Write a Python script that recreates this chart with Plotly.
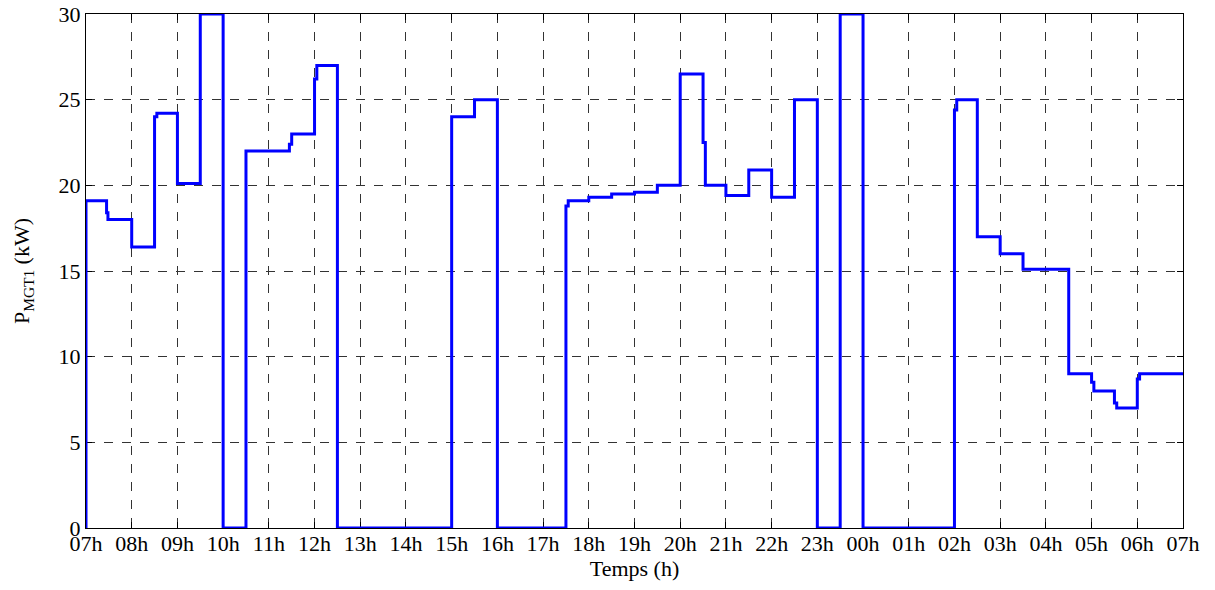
import plotly.graph_objects as go

# Time in hours after 07h, and power of MGT1 (kW) starting at that time (step function)
hours = [0, 0, 0.45, 0.48, 1.0, 1.5, 1.55, 2.0, 2.5, 3.0, 3.5, 4.45, 4.5, 5.0, 5.05, 5.5,
         8.0, 8.5, 9.0, 10.5, 10.55, 11.0, 11.5, 12.0, 12.5, 13.0, 13.5, 13.55, 14.0, 14.5,
         15.0, 15.5, 16.0, 16.5, 17.0, 19.0, 19.05, 19.5, 20.0, 20.5, 21.5, 22.0, 22.05,
         22.5, 22.55, 23.0, 23.05, 24.0]
p_mgt1 = [0, 19.1, 18.4, 18.0, 16.4, 24.0, 24.2, 20.1, 30.0, 0, 22.0, 22.4, 23.0, 26.2, 27.0, 0,
          24.0, 25.0, 0, 18.8, 19.1, 19.3, 19.5, 19.6, 20.0, 26.5, 22.5, 20.0, 19.4, 20.9,
          19.3, 25.0, 0, 30.0, 0, 24.4, 25.0, 17.0, 16.0, 15.1, 9.0, 8.5, 8.0,
          7.3, 7.0, 8.7, 9.0, 9.0]

tick_hours = list(range(0, 25))
tick_labels = ["07h", "08h", "09h", "10h", "11h", "12h", "13h", "14h", "15h", "16h", "17h",
               "18h", "19h", "20h", "21h", "22h", "23h", "00h", "01h", "02h", "03h", "04h",
               "05h", "06h", "07h"]
y_ticks = [0, 5, 10, 15, 20, 25, 30]

font_family = "Liberation Serif, Times New Roman, serif"

fig = go.Figure()
fig.add_trace(go.Scatter(
    x=hours, y=p_mgt1, mode="lines", line_shape="hv",
    line=dict(color="#0000FF", width=3), showlegend=False,
))

fig.update_layout(
    width=1215, height=590,
    margin=dict(l=86, r=32, t=14, b=62),
    paper_bgcolor="white", plot_bgcolor="white",
    font=dict(family=font_family, size=22, color="black"),
)
fig.update_xaxes(
    range=[0, 24], tickmode="array", tickvals=tick_hours, ticktext=tick_labels,
    showline=True, linecolor="black", linewidth=1, mirror="ticks",
    ticks="inside", ticklen=6, tickcolor="black",
    showgrid=True, gridcolor="#333333", gridwidth=1, griddash="dash",
    zeroline=False, layer="below traces", automargin=False,
    title=dict(text="Temps (h)", standoff=2, font=dict(size=22)),
    tickfont=dict(size=22), ticklabelstandoff=-4,
)
fig.update_yaxes(
    range=[0, 30], tickmode="array", tickvals=y_ticks,
    showline=True, linecolor="black", linewidth=1, mirror="ticks",
    ticks="inside", ticklen=6, tickcolor="black",
    showgrid=True, gridcolor="#333333", gridwidth=1, griddash="dash",
    zeroline=False, layer="below traces", automargin=False,
    title=dict(text="P<sub>MGT1</sub> (kW)", standoff=22, font=dict(size=22)),
    tickfont=dict(size=22), ticklabelstandoff=0,
)

fig.write_html("out.html", config={"displayModeBar": False})

# remove the browser's default page margin so the figure sits at the window's corner
with open("out.html", "r", encoding="utf-8") as f:
    html = f.read()
html = html.replace("<head>", "<head><style>html,body{margin:0;padding:0;overflow:hidden;}</style>", 1)
with open("out.html", "w", encoding="utf-8") as f:
    f.write(html)
